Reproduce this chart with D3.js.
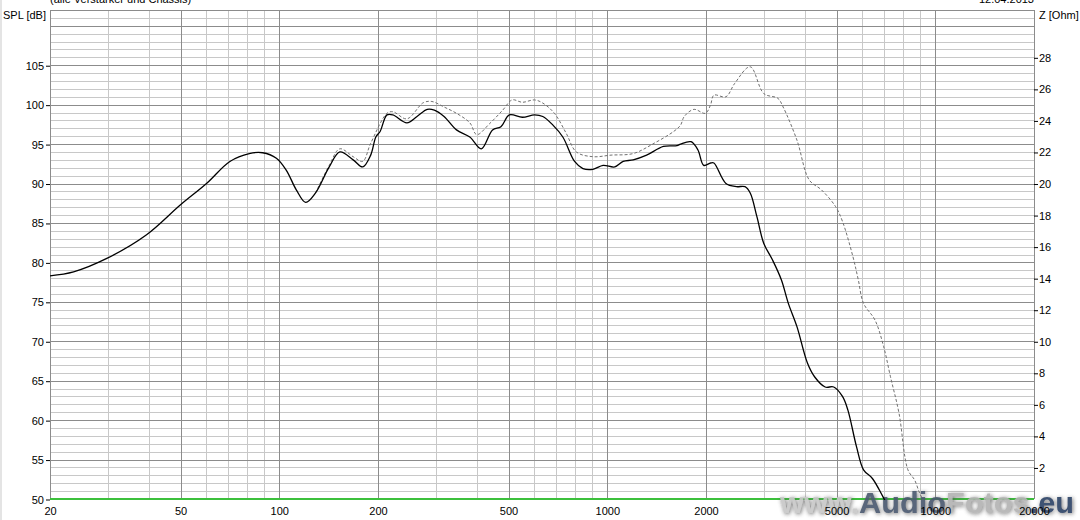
<!DOCTYPE html>
<html><head><meta charset="utf-8">
<script src="https://cdn.jsdelivr.net/npm/d3@7"></script>
<style>
html,body{margin:0;padding:0;background:#fff;}
svg text{font-family:"Liberation Sans",Arial,sans-serif;}
</style></head>
<body>
<svg id="chart" width="1080" height="520"></svg>
<script>
// ---- data ----
const freqSolid = [20,23.6,29.8,39.4,50,60,70.7,81,89,98,105,112.7,120.4,129,142,153,168,179.6,190,197,203,213,222,245,263,282.6,297,318,347,381,413,447,474,503,551,600,636,683,732,795,843,904,971,1054,1118,1200,1318,1483,1630,1673,1800,1890,1968,2066,2114,2301,2476,2630,2728,2859,3001,3191,3394,3565,3787,4079,4285,4616,4903,5213,5413,5755,6044,6433,6924,7300];
const splSolid  = [78.3,78.8,80.5,83.5,87.3,90.0,92.8,93.8,93.9,93.2,91.7,89.2,87.6,88.8,92.1,94.0,93.0,92.1,93.6,95.9,96.6,98.7,98.7,97.7,98.5,99.4,99.3,98.5,96.8,95.9,94.4,96.8,97.2,98.7,98.4,98.7,98.5,97.4,95.9,92.8,91.9,91.8,92.3,92.1,92.8,93.0,93.6,94.7,94.8,95.0,95.3,94.25,92.3,92.6,92.6,90.0,89.6,89.6,88.8,85.8,82.4,80.3,77.8,74.8,71.85,67.2,65.5,64.2,64.2,63.0,61.3,56.6,53.7,52.6,50.3,48.5];

const freqDashed = [129,142,153,168,179.6,190,213,222,245,275,292,318,347,381,400,438,480,513,551,600,636,690,749,805,904,1027,1200,1389,1594,1673,1717,1837,1992,2066,2114,2301,2447,2728,3001,3313,3437,3787,4128,4497,4962,5213,5612,5825,6044,6548,6963,7302,7751,8253,8654,8970,9300];
const splDashed  = [88.8,92.3,94.4,93.4,92.8,95.1,98.9,99.1,98.2,100.25,100.4,99.7,98.9,97.7,96.2,97.6,99.3,100.6,100.3,100.6,100.2,98.9,96.4,94.0,93.4,93.6,93.8,95.1,96.6,97.4,98.5,99.4,98.9,100.0,101.2,101.0,102.7,104.8,101.4,100.8,99.7,95.5,90.45,89.2,87.1,85.2,80.7,77.8,74.8,72.7,69.3,65.5,60.9,53.7,52.4,50.7,49.5];

const xTickLabels = [20,50,100,200,500,1000,2000,5000,10000,20000];
const splTicks = [50,55,60,65,70,75,80,85,90,95,100,105];
const zTicks = [2,4,6,8,10,12,14,16,18,20,22,24,26,28];

// ---- layout ----
const L = 50, R = 1034, T = 10, B = 499;
const FS = 11;
const svg = d3.select("#chart");
const x = d3.scaleLog().domain([20,20000]).range([L,R]);
const y = d3.scaleLinear().domain([50,112]).range([B,T]);
const yZ = d3.scaleLinear().domain([0,31]).range([B,T]);

// left thin gray strip
svg.append("rect").attr("x",0).attr("y",0).attr("width",2).attr("height",520).attr("fill","#e4e4e4");

// top clipped texts
svg.append("text").attr("x",50).attr("y",3).attr("font-size",FS).attr("fill","#000").text("(alle Verstärker und Chassis)");
svg.append("text").attr("x",1034).attr("y",3).attr("font-size",FS).attr("text-anchor","end").attr("fill","#000").text("12.04.2013");

// grid
const g = svg.append("g");
const hLines = d3.range(51,113);
g.selectAll("line.h").data(hLines.filter(v=>v%5!==0)).join("line")
  .attr("x1",L).attr("x2",R).attr("y1",d=>Math.round(y(d))+0.5).attr("y2",d=>Math.round(y(d))+0.5)
  .attr("stroke","#c8c8c8").attr("stroke-width",1);
const vAll = [];
[10,100,1000,10000].forEach(dec=>{for(let k=1;k<=9;k++){const f=dec*k; if(f>=20&&f<=20000) vAll.push(f);}});
vAll.push(20000);
const isMajor = f => { const m = Math.round(f/Math.pow(10,Math.floor(Math.log10(f)+1e-9))); return m===1||m===2||m===5; };
g.selectAll("line.v").data(vAll.filter(f=>!isMajor(f))).join("line")
  .attr("x1",d=>Math.round(x(d))+0.5).attr("x2",d=>Math.round(x(d))+0.5).attr("y1",T).attr("y2",B)
  .attr("stroke","#c8c8c8").attr("stroke-width",1);
g.selectAll("line.hm").data(hLines.filter(v=>v%5===0)).join("line")
  .attr("x1",L).attr("x2",R).attr("y1",d=>Math.round(y(d))+0.5).attr("y2",d=>Math.round(y(d))+0.5)
  .attr("stroke","#8c8c8c").attr("stroke-width",1);
g.selectAll("line.vm").data(vAll.filter(isMajor)).join("line")
  .attr("x1",d=>Math.round(x(d))+0.5).attr("x2",d=>Math.round(x(d))+0.5).attr("y1",T).attr("y2",B)
  .attr("stroke","#8c8c8c").attr("stroke-width",1);
g.append("line").attr("x1",L).attr("x2",R).attr("y1",T+0.5).attr("y2",T+0.5).attr("stroke","#8c8c8c");

// green baseline
svg.append("line").attr("x1",L).attr("x2",R).attr("y1",B).attr("y2",B).attr("stroke","#3cc03c").attr("stroke-width",2);

// watermark (under the curves and labels)
const defs = svg.append("defs");
const flt = defs.append("filter").attr("id","wmshadow").attr("x","-10%").attr("y","-30%").attr("width","120%").attr("height","160%");
flt.append("feGaussianBlur").attr("in","SourceAlpha").attr("stdDeviation",2.2).attr("result","b");
flt.append("feOffset").attr("in","b").attr("dx",1).attr("dy",1).attr("result","o");
flt.append("feFlood").attr("flood-color","#555").attr("flood-opacity",0.9);
flt.append("feComposite").attr("in2","o").attr("operator","in").attr("result","s");
const fm = flt.append("feMerge");
fm.append("feMergeNode").attr("in","s");
fm.append("feMergeNode").attr("in","SourceGraphic");

const wm = svg.append("text").attr("x",780).attr("y",513).attr("font-size",30).attr("font-weight","bold")
  .attr("textLength",294).attr("lengthAdjust","spacingAndGlyphs").attr("filter","url(#wmshadow)")
  .attr("opacity",0.92)
  .style("font-family","'Liberation Sans', Arial, sans-serif");
wm.append("tspan").attr("fill","#c8c8c8").text("www.");
wm.append("tspan").attr("fill","#4b5a70").text("Audio");
wm.append("tspan").attr("fill","#b4b4b4").text("Fotos");
wm.append("tspan").attr("fill","#2d4468").text(".eu");

// axis titles
svg.append("text").attr("x",3).attr("y",19).attr("font-size",FS).text("SPL [dB]");
svg.append("text").attr("x",1039).attr("y",19).attr("font-size",FS).text("Z [Ohm]");

// left axis
const leftAxis = d3.axisLeft(y).tickValues(splTicks).tickSize(4).tickPadding(2);
const la = svg.append("g").attr("transform",`translate(${L},0.5)`).call(leftAxis);
la.select(".domain").remove();
la.selectAll("text").attr("font-size",FS).attr("font-family","Liberation Sans, Arial, sans-serif").attr("fill","#000");
la.selectAll("line").attr("stroke","#000");

// right axis
const rightAxis = d3.axisRight(yZ).tickValues(zTicks).tickSize(4).tickPadding(1);
const ra = svg.append("g").attr("transform",`translate(${R},0.5)`).call(rightAxis);
ra.select(".domain").remove();
ra.selectAll("text").attr("font-size",FS).attr("font-family","Liberation Sans, Arial, sans-serif").attr("fill","#000");
ra.selectAll("line").attr("stroke","#000");

// bottom axis
const bottomAxis = d3.axisBottom(x).tickValues(xTickLabels).tickFormat(d3.format("d")).tickSize(0).tickPadding(8);
const ba = svg.append("g").attr("transform",`translate(0,${B})`).call(bottomAxis);
ba.select(".domain").remove();
ba.selectAll("text").attr("font-size",FS).attr("font-family","Liberation Sans, Arial, sans-serif").attr("fill","#000");

// curves
svg.append("clipPath").attr("id","plotclip").append("rect").attr("x",L).attr("y",T).attr("width",R-L).attr("height",B-T+1);
const line = d3.line().x(d=>x(d[0])).y(d=>y(d[1])).curve(d3.curveCatmullRom.alpha(0.5));
const dashedData = freqDashed.map((f,i)=>[f,splDashed[i]]);
const solidData = freqSolid.map((f,i)=>[f,splSolid[i]]);
const plot = svg.append("g").attr("clip-path","url(#plotclip)");
plot.append("path").datum(dashedData).attr("d",line).attr("fill","none")
  .attr("stroke","#707070").attr("stroke-width",1).attr("stroke-dasharray","3,2");
plot.append("path").datum(solidData).attr("d",line).attr("fill","none")
  .attr("stroke","#000").attr("stroke-width",1.3);
</script>
</body></html>
